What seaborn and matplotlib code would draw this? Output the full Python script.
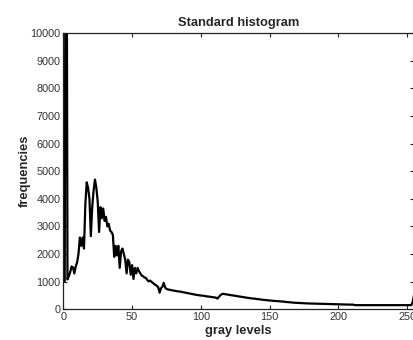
import matplotlib
matplotlib.use("Agg")
import matplotlib.pyplot as plt
import seaborn as sns
import numpy as np

gray_levels = list(range(256))

freq_0_49 = [1000, 1020, 25000, 1080, 1200, 1350, 1550, 1520, 1300, 1550,
             1700, 2000, 2600, 2300, 2600, 2200, 3800, 4600, 4400, 4000,
             2650, 3700, 4300, 4700, 4400, 3900, 2800, 3700, 3300, 3650,
             3200, 3350, 3000, 3100, 2850, 2800, 2700, 1900, 2300, 1950,
             2300, 1500, 2100, 2200, 2000, 1800, 1300, 1800, 1700, 1250]
freq_50_99 = [1600, 1100, 1500, 1300, 1500, 1380, 1300, 1220, 1200, 1150,
              1140, 1060, 1010, 1040, 1000, 960, 920, 880, 850, 800,
              600, 760, 820, 960, 790, 740, 720, 710, 700, 690,
              680, 670, 660, 650, 650, 640, 630, 620, 610, 600,
              590, 580, 570, 560, 550, 540, 530, 520, 515, 505]
freq_100_149 = [500, 495, 490, 480, 470, 465, 460, 450, 445, 435,
                430, 420, 385, 440, 500, 540, 560, 555, 545, 535,
                530, 520, 510, 505, 495, 490, 480, 470, 465, 455,
                450, 440, 430, 425, 415, 410, 400, 395, 390, 385,
                380, 370, 365, 360, 350, 345, 340, 335, 330, 325]
freq_150_199 = [320, 315, 310, 305, 300, 300, 295, 290, 285, 285,
                280, 270, 265, 260, 255, 250, 245, 240, 238, 235,
                230, 228, 225, 222, 220, 218, 215, 213, 212, 210,
                210, 208, 206, 204, 203, 202, 201, 200, 200, 198,
                200, 197, 195, 193, 192, 190, 188, 186, 184, 182]
freq_200_255 = [180, 178, 176, 175, 174, 173, 172, 171, 170, 170,
                170, 168, 150, 150, 150, 150, 150, 150, 150, 150,
                150, 150, 150, 150, 150, 150, 150, 150, 150, 150,
                150, 150, 150, 150, 150, 150, 150, 150, 150, 150,
                150, 150, 150, 150, 150, 150, 150, 150, 150, 150,
                150, 150, 150, 150, 250, 520]
frequencies = freq_0_49 + freq_50_99 + freq_100_149 + freq_150_199 + freq_200_255

x_ticks = [0, 50, 100, 150, 200, 250]
y_ticks = [0, 1000, 2000, 3000, 4000, 5000, 6000, 7000, 8000, 9000, 10000]

sns.set_style("ticks")
plt.rcParams['font.family'] = ['Liberation Sans', 'DejaVu Sans']

fig = plt.figure(figsize=(4.14, 3.40), dpi=100)
ax = fig.add_axes([0.153, 0.0903, 0.847, 0.812])
sns.lineplot(x=gray_levels, y=frequencies, ax=ax, color="black", linewidth=1.6)
ax.set_xlim(0, 255)
ax.set_ylim(0, 10000)
ax.set_xticks(x_ticks)
ax.set_yticks(y_ticks)
ax.tick_params(direction="in", length=3, width=0.8, top=True, right=True,
               labelsize=7.8, labelcolor="#333333", color="#222222", pad=2)
for s in ax.spines.values():
    s.set_color("#222222")
    s.set_linewidth(0.9)
ax.set_title("Standard histogram", fontsize=9.3, fontweight="bold", pad=5)
ax.set_xlabel("gray levels", fontsize=9.3, fontweight="bold", labelpad=2)
ax.set_ylabel("frequencies", fontsize=9.3, fontweight="bold", labelpad=0)
fig.savefig("out.png", dpi=100)
